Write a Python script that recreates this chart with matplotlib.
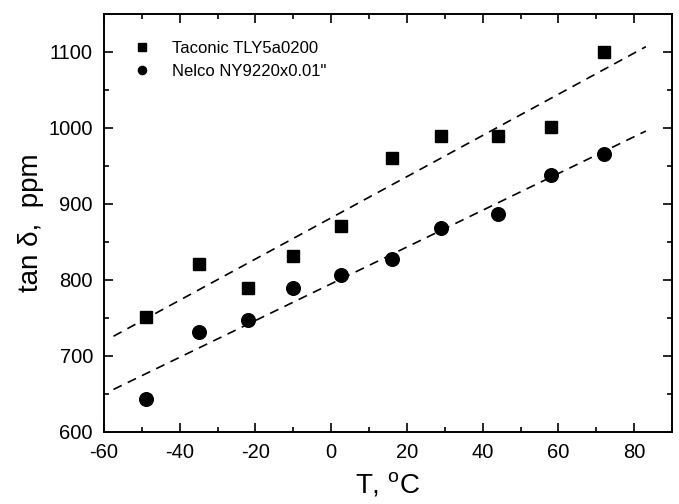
import matplotlib
matplotlib.use('Agg')
import matplotlib.pyplot as plt
from matplotlib.ticker import MultipleLocator

plt.rcParams['font.family'] = ['Liberation Sans', 'DejaVu Sans']
plt.rcParams['axes.unicode_minus'] = False
plt.rcParams['mathtext.fontset'] = 'custom'
plt.rcParams['mathtext.rm'] = 'Liberation Sans'

# temperatures, degC
temp = [-49, -35, -22, -10, 2.5, 16, 29, 44, 58, 72]

# loss tangent, ppm
taconic = [751, 821, 790, 831, 871, 961, 990, 990, 1001, 1100]
nelco = [643, 731, 747, 790, 806, 827, 869, 887, 938, 966]

# linear fits as drawn (ends)
fit_x = [-57.5, 83.1]
fit_taconic = [726, 1107]
fit_nelco = [656, 996]

fig = plt.figure(figsize=(6.79, 5.04), dpi=100)
ax = fig.add_axes([104 / 679, 1 - 432 / 504, 568 / 679, 418 / 504])

ax.plot(fit_x, fit_taconic, color='black', lw=1.2, ls=(0, (5.5, 4)))
ax.plot(fit_x, fit_nelco, color='black', lw=1.2, ls=(0, (5.5, 4)))

ax.plot(temp, taconic, 's', color='black', ms=8.8, label='Taconic TLY5a0200')
ax.plot(temp, nelco, 'o', color='black', ms=9.8, label='Nelco NY9220x0.01"')

ax.set_xlim(-60, 90)
ax.set_ylim(600, 1150)
ax.xaxis.set_major_locator(MultipleLocator(20))
ax.xaxis.set_minor_locator(MultipleLocator(10))
ax.yaxis.set_major_locator(MultipleLocator(100))
ax.yaxis.set_minor_locator(MultipleLocator(50))

ax.tick_params(which='both', direction='in', top=True, right=True,
               labelsize=14.5, width=1.2, pad=8)
ax.tick_params(which='major', length=6.5)
ax.tick_params(which='minor', length=3.4)
for s in ax.spines.values():
    s.set_linewidth(1.4)

ax.set_xlabel('T, $^{\\mathrm{o}}$C', fontsize=20, labelpad=6)
ax.set_ylabel('tan δ,  ppm', fontsize=20, labelpad=3)

ax.legend(loc='upper left', frameon=False, fontsize=12, markerscale=0.6,
          handlelength=1.0, handletextpad=1.3, labelspacing=0.5,
          borderaxespad=0.0, bbox_to_anchor=(0.04, 0.952))

fig.savefig('out.png', dpi=100)
